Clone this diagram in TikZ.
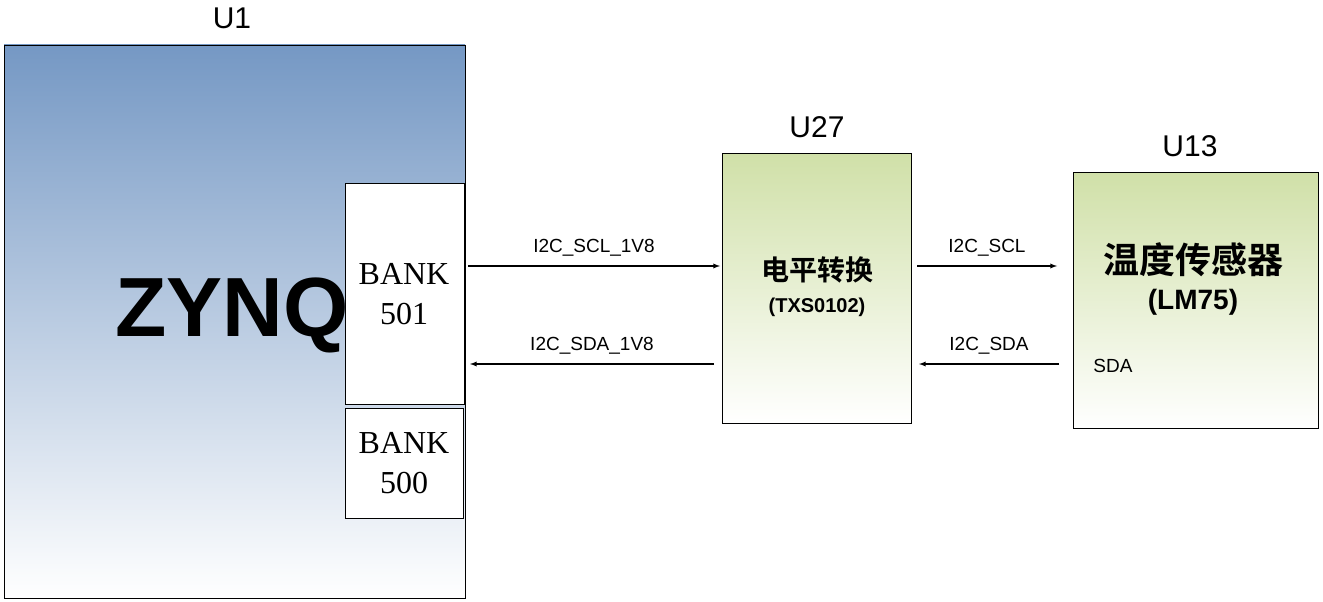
\documentclass[tikz,border=0pt]{standalone}
\usepackage{fontspec}
\setmainfont{Liberation Sans}
\newfontfamily\serifb{Liberation Serif}
\newfontfamily\cjk{Noto Sans CJK SC}[BoldFont={* Bold}]
\begin{document}
\begin{tikzpicture}[x=1pt,y=-1pt,
  blk/.style={draw,line width=0.8pt},
  sig/.style={-latex,line width=1.3pt},
  lbl/.style={font=\fontsize{19}{20}\selectfont},
  ulbl/.style={font=\fontsize{30}{32}\selectfont},
  bank/.style={font=\serifb\fontsize{32}{40}\selectfont,align=center}]
\useasboundingbox (0,0) rectangle (1323,602);
\fill[top color={rgb,255:red,117;green,152;blue,196},bottom color=white] (4,45) rectangle (465,598);
\node (zynq) at (232,315) {\fontsize{84}{90}\selectfont\bfseries ZYNQ};
\draw[blk] (4,45) rectangle (465,598);
\node (u1) at (232,18) [ulbl] {U1};
\draw[blk,fill=white] (345,183) rectangle (464,404);
\node (b501) at (404,294) [bank] {BANK\\501};
\draw[blk,fill=white] (345,408) rectangle (463,518);
\node (b500) at (404,463) [bank] {BANK\\500};
\coordinate (b501r1) at (468,266);
\coordinate (b501r2) at (470,364);
% U27
\draw[blk,top color={rgb,255:red,208;green,224;blue,168},bottom color=white] (722,153) rectangle (911,423);
\node (u27) at (817,127) [ulbl] {U27};
\node (ls) at (817,270) {\cjk\bfseries\fontsize{28}{30}\selectfont 电平转换};
\node (txs) at (817,307) {\bfseries\fontsize{20}{22}\selectfont (TXS0102)};
\coordinate (u27l1) at (720,266);
\coordinate (u27l2) at (714,364);
\coordinate (u27r1) at (917,266);
\coordinate (u27r2) at (919,364);
% U13
\draw[blk,top color={rgb,255:red,208;green,224;blue,168},bottom color=white] (1073,172) rectangle (1318,428);
\node (u13) at (1190,146) [ulbl] {U13};
\node (ts) at (1193,260) {\cjk\bfseries\fontsize{36}{38}\selectfont 温度传感器};
\node (lm) at (1193,302) {\bfseries\fontsize{28}{30}\selectfont (LM75)};
\node (sda) at (1113,366) [lbl] {SDA};
\coordinate (u13l1) at (1057,266);
\coordinate (u13l2) at (1059,364);
\draw[sig] (b501r1) -- node[lbl,above=6pt] {I2C\_SCL\_1V8} (u27l1);
\draw[sig] (u27l2) -- node[lbl,above=6pt] {I2C\_SDA\_1V8} (b501r2);
\draw[sig] (u27r1) -- node[lbl,above=6pt] {I2C\_SCL} (u13l1);
\draw[sig] (u13l2) -- node[lbl,above=6pt] {I2C\_SDA} (u27r2);
\end{tikzpicture}
\end{document}
